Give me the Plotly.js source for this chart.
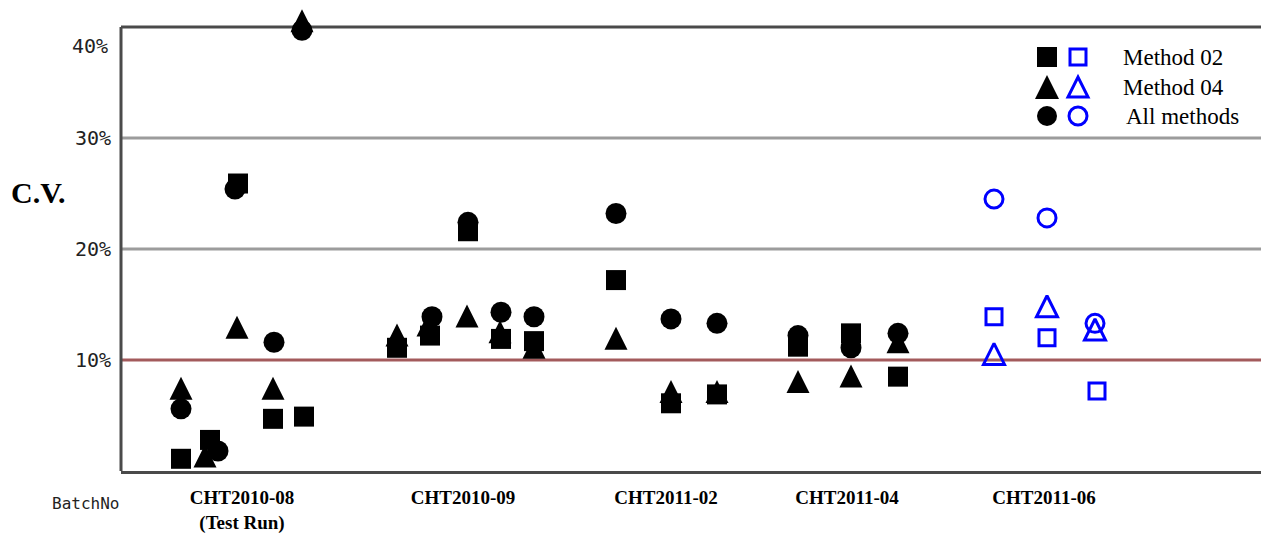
<!DOCTYPE html>
<html>
<head>
<meta charset="utf-8">
<script src="https://cdn.plot.ly/plotly-3.0.1.min.js"></script>
<style>html,body{margin:0;padding:0;background:#fff;}</style>
</head>
<body>
<div id="chart" style="width:1261px;height:534px;"></div>
<script>
// ---- data (x = position along the batch axis, y = C.V. in %) ----
const batchLabels = ['CHT2010-08<br>(Test Run)', 'CHT2010-09', 'CHT2011-02', 'CHT2011-04', 'CHT2011-06'];
const batchPos = [121, 342, 545, 726, 923];
const yTickVals = [10, 20, 30];
const yTickText = ['10%', '20%', '30%'];

// Method 02 (filled squares)
const m02X = [60, 89, 117, 152, 183, 276, 309, 347, 380, 413, 495, 550, 596, 677, 730, 777];
const m02Y = [1.1, 2.8, 25.9, 4.7, 4.9, 11.1, 12.2, 21.6, 11.9, 11.7, 17.2, 6.1, 6.9, 11.2, 12.4, 8.5];
// Method 04 (filled triangles)
const m04X = [60, 84, 116, 152, 181, 276, 307, 346, 379, 413, 495, 550, 596, 677, 730, 777];
const m04Y = [7.5, 1.4, 13.0, 7.5, 40.6, 12.3, 13.2, 14.0, 12.6, 11.2, 12.0, 7.2, 7.2, 8.1, 8.6, 11.7];
// All methods (filled circles)
const allX = [60, 97, 114, 153, 181, 311, 347, 380, 413, 495, 550, 596, 677, 730, 777];
const allY = [5.6, 1.8, 25.4, 11.6, 39.7, 13.9, 22.4, 14.3, 13.9, 23.2, 13.7, 13.3, 12.2, 11.1, 12.4];
// CHT2011-06 (open blue markers)
const m02bX = [873, 926, 976];
const m02bY = [13.9, 12.0, 7.2];
const m04bX = [873, 926, 974];
const m04bY = [10.5, 14.8, 12.7];
const allbX = [873, 926, 974];
const allbY = [24.5, 22.8, 13.3];

const legendNames = ['Method 02', 'Method 04', 'All methods'];

// ---- styling ----
const BLK = '#000000', BLUE = '#0000ff';
const monoFont = {family: 'DejaVu Sans Mono, monospace', size: 20, color: '#222'};
const serif = 'Liberation Serif, Times New Roman, serif';
const FRAME = '#4a4a4a';

const W = 1261, H = 534, L = 121, B = 63;
const FRAME_TOP_PX = 27;             // page pixel of the 40% frame line
const YMAX = 40;
const unit = (H - B - FRAME_TOP_PX) / YMAX;   // px per percent
const T = 5;
const PW = W - L, PH = H - T - B;
const YTOP = PH / unit;              // range top, a bit above 40% so the high points stay drawn
const px = v => (v - L) / PW;        // page pixel -> paper x
const py = v => (H - B - v) / PH;    // page pixel -> paper y

// triangle symbol ('arrow-up') has its apex on the point; a twin y-axis shifted by
// half the symbol height centres the triangle on its value
const TRI = 22;
const triShift = (TRI / 2) / unit;

const traces = [
  {x: m02X, y: m02Y, type: 'scatter', mode: 'markers', cliponaxis: false,
   marker: {symbol: 'square', size: 20, color: BLK, line: {width: 0}}},
  {x: m04X, y: m04Y, yaxis: 'y2', type: 'scatter', mode: 'markers', cliponaxis: false,
   marker: {symbol: 'arrow-up', size: TRI + 1, color: BLK, line: {width: 0}}},
  {x: allX, y: allY, type: 'scatter', mode: 'markers', cliponaxis: false,
   marker: {symbol: 'circle', size: 21, color: BLK, line: {width: 0}}},
  {x: m02bX, y: m02bY, type: 'scatter', mode: 'markers', cliponaxis: false,
   marker: {symbol: 'square-open', size: 16, color: BLUE, line: {width: 3, color: BLUE}}},
  {x: m04bX, y: m04bY, yaxis: 'y2', type: 'scatter', mode: 'markers', cliponaxis: false,
   marker: {symbol: 'arrow-up-open', size: TRI - 1, color: BLUE, line: {width: 3, color: BLUE}}},
  {x: allbX, y: allbY, type: 'scatter', mode: 'markers', cliponaxis: false,
   marker: {symbol: 'circle-open', size: 18, color: BLUE, line: {width: 3, color: BLUE}}}
];

// legend rows (page pixel positions of decoration)
const rowsY = [57, 87, 116];
const symX1 = 1047, symX2 = 1078;
const shapes = [
  {type: 'line', xref: 'paper', x0: 0, x1: 1, yref: 'y', y0: 30, y1: 30, line: {color: '#9c9c9c', width: 3}, layer: 'below'},
  {type: 'line', xref: 'paper', x0: 0, x1: 1, yref: 'y', y0: 20, y1: 20, line: {color: '#9c9c9c', width: 3}, layer: 'below'},
  {type: 'line', xref: 'paper', x0: 0, x1: 1, yref: 'y', y0: 10, y1: 10, line: {color: '#a35a5c', width: 3}, layer: 'below'},
  // frame: top and left
  {type: 'line', xref: 'paper', x0: 0, x1: 1, yref: 'y', y0: YMAX, y1: YMAX, line: {color: FRAME, width: 3}, layer: 'below'},
  {type: 'line', xref: 'paper', x0: 0, x1: 0, yref: 'y', y0: 0, y1: YMAX, line: {color: FRAME, width: 3}, layer: 'below'}
];
function pshape(type, cx, cy, extra) {
  return Object.assign({type: type, xref: 'paper', yref: 'paper', xsizemode: 'pixel', ysizemode: 'pixel',
    xanchor: px(cx), yanchor: py(cy)}, extra);
}
shapes.push(pshape('rect', symX1, rowsY[0], {x0: -10, x1: 10, y0: -10, y1: 10, fillcolor: BLK, line: {width: 0}}));
shapes.push(pshape('rect', symX2, rowsY[0], {x0: -8, x1: 8, y0: -8, y1: 8, fillcolor: 'rgba(0,0,0,0)', line: {color: BLUE, width: 3}}));
shapes.push(pshape('path', symX1, rowsY[1], {path: 'M -12 -12 L 12 -12 L 0 12 Z', fillcolor: BLK, line: {width: 0}}));
shapes.push(pshape('path', symX2, rowsY[1], {path: 'M -10 -10 L 10 -10 L 0 10 Z', fillcolor: 'rgba(0,0,0,0)', line: {color: BLUE, width: 3}}));
shapes.push(pshape('circle', symX1, rowsY[2], {x0: -10, x1: 10, y0: -10, y1: 10, fillcolor: BLK, line: {width: 0}}));
shapes.push(pshape('circle', symX2, rowsY[2], {x0: -9, x1: 9, y0: -9, y1: 9, fillcolor: 'rgba(0,0,0,0)', line: {color: BLUE, width: 3}}));

const annotations = [
  {text: '40%', xref: 'paper', x: 0, xanchor: 'right', xshift: -11, yref: 'y', y: YMAX, yanchor: 'middle', yshift: -19,
   showarrow: false, font: monoFont},
  {text: '<b>C.V.</b>', xref: 'paper', x: px(38), xanchor: 'center', yref: 'paper', y: py(192), yanchor: 'middle',
   showarrow: false, font: {family: serif, size: 30, color: '#000'}},
  {text: 'BatchNo', xref: 'paper', x: px(85), xanchor: 'center', yref: 'paper', y: py(503), yanchor: 'middle',
   showarrow: false, font: {family: 'DejaVu Sans Mono, monospace', size: 16, color: '#222'}}
];
const textX = [1121, 1121, 1124];
legendNames.forEach((n, i) => {
  annotations.push({text: n, xref: 'paper', x: px(textX[i]), xanchor: 'left', yref: 'paper', y: py(rowsY[i]),
    yanchor: 'middle', showarrow: false, font: {family: serif, size: 23, color: '#000'}});
});

const layout = {
  width: W, height: H,
  margin: {l: L, r: 0, t: T, b: B, pad: 0},
  paper_bgcolor: '#fff', plot_bgcolor: '#fff',
  showlegend: false,
  xaxis: {range: [0, PW], tickvals: batchPos, ticktext: batchLabels, ticks: '', showgrid: false, zeroline: false,
    showline: true, linecolor: FRAME, linewidth: 3, ticklabelstandoff: 7,
    tickfont: {family: serif, size: 19, color: '#000', weight: 'bold'}, fixedrange: true},
  yaxis: {range: [0, YTOP], tickvals: yTickVals, ticktext: yTickText, ticks: '', showgrid: false, zeroline: false,
    showline: false, ticklabelstandoff: 9, tickfont: monoFont, fixedrange: true},
  yaxis2: {overlaying: 'y', range: [-triShift, YTOP - triShift], visible: false, fixedrange: true},
  shapes: shapes,
  annotations: annotations
};

Plotly.newPlot('chart', traces, layout, {displayModeBar: false, staticPlot: true});
</script>
</body>
</html>
